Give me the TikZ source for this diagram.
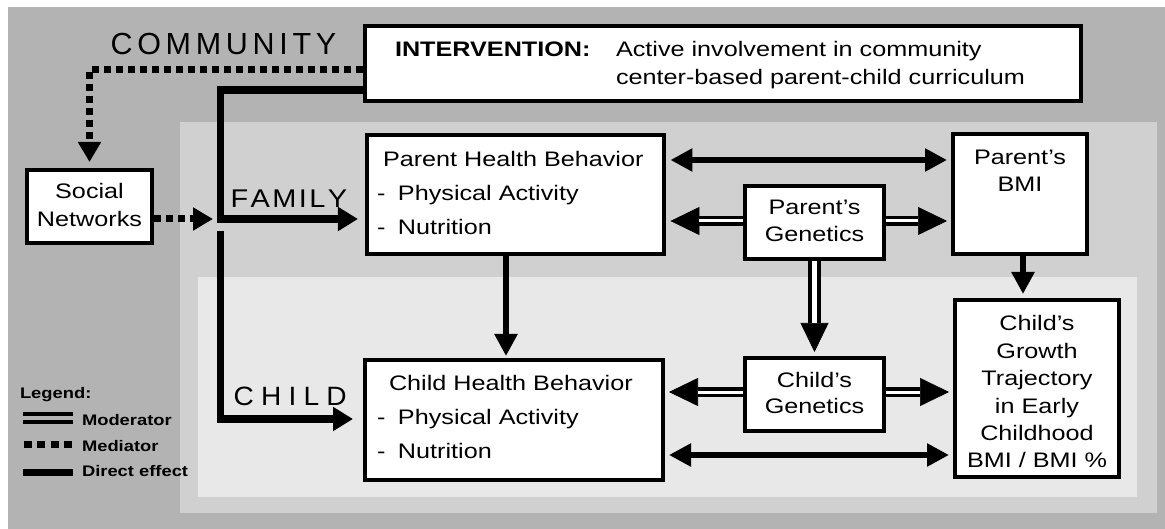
\documentclass[tikz,border=0pt]{standalone}
\usepackage{fontspec}
\setmainfont{Liberation Sans}[FakeStretch=1.2]
\newfontfamily\commfont{Liberation Sans}
\newfontfamily\famfont{Liberation Sans}[FakeStretch=1.13]
\newfontfamily\childfont{Liberation Sans}[FakeStretch=1.06]
\usetikzlibrary{arrows.meta}
\definecolor{outerg}{RGB}{179,179,179}
\definecolor{famg}{RGB}{208,208,208}
\definecolor{childg}{RGB}{232,232,232}
\makeatletter
\newcommand\spword[2]{\@tfor\sp@ch:=#2\do{\sp@ch\kern#1}}
\makeatother
\newcommand\linesC[1]{\begin{tabular}[t]{@{}c@{}}#1\end{tabular}}
\newcommand\linesL[1]{\begin{tabular}[t]{@{}l@{}}#1\end{tabular}}
\tikzset{
  box/.style={draw=black, fill=white, line width=4pt, inner sep=0pt, outer sep=2pt, rectangle},
  txt/.style={inner sep=0pt, outer sep=0pt},
  direct/.style={line width=5.5pt},
  moderator/.style={line width=0.6pt, -{Triangle[length=29pt,width=28pt]}, shorten >=4pt,
    postaction={draw, -, line width=3.5pt, double=white, double distance=3pt, shorten >=33pt}},
  moderatorV/.style={line width=0.6pt, -{Triangle[length=29pt,width=28pt]}, shorten >=4pt,
    postaction={draw, -, line width=4.5pt, double=white, double distance=4.5pt, shorten >=33pt}},
  mediator/.style={line width=7pt, dash pattern=on 7pt off 5pt, -{Triangle[length=20pt,width=22pt]}},
  intvline/.style={line width=7.5pt, -{Triangle[length=20pt,width=23pt]}},
}
\begin{document}
\begin{tikzpicture}[x=1pt,y=-1pt, line join=miter,
  >={Triangle[length=22pt,width=22pt]},
  every node/.style={font=\fontsize{21}{27.4}\selectfont}]
\useasboundingbox (0,0) rectangle (1165,529);
\fill[white] (0,0) rectangle (1165,529);
% background regions
\fill[outerg] (8,7) rectangle (1165,529);
\fill[famg] (180,122) rectangle (1157,513);
\fill[childg] (198,277) rectangle (1137,497);

% boxes
\node[box, minimum width=716pt, minimum height=75pt] (intv) at (723,63.5) {};
\node[box, minimum width=125pt, minimum height=73pt] (sn) at (89.5,206.5) {};
\node[box, minimum width=297.5pt, minimum height=119pt] (phb) at (515.7,194.5) {};
\node[box, minimum width=298pt, minimum height=120pt] (chb) at (514,420) {};
\node[box, minimum width=139pt, minimum height=73pt] (pg) at (814.5,222.5) {};
\node[box, minimum width=139pt, minimum height=73pt] (cg) at (814.5,394.5) {};
\node[box, minimum width=134pt, minimum height=120pt] (pbmi) at (1020,194) {};
\node[box, minimum width=164pt, minimum height=177pt] (cgr) at (1037,388.5) {};

% texts
\node[txt, anchor=base west] (intvA) at (395,57) {\bfseries INTERVENTION:};
\node[txt, anchor=base west, font=\fontsize{21}{28}\selectfont] (intvB) at (616,57)
  {\linesL{Active involvement in community\\center-based parent-child curriculum}};
\node[txt, anchor=base, font=\fontsize{21}{28}\selectfont] (snT) at (89.5,199) {\linesC{Social\\Networks}};
\node[txt, anchor=base west, font=\fontsize{21}{34}\selectfont] (phbT) at (377,167)
  {\linesL{\hspace*{6pt}Parent Health Behavior\\\makebox[21pt][l]{-}Physical Activity\\\makebox[21pt][l]{-}Nutrition}};
\node[txt, anchor=base west, font=\fontsize{21}{33.5}\selectfont] (chbT) at (377,391)
  {\linesL{\hspace*{12pt}Child Health Behavior\\\makebox[21pt][l]{-}Physical Activity\\\makebox[21pt][l]{-}Nutrition}};
\node[txt, anchor=base, font=\fontsize{21}{27}\selectfont] (pgT) at (814.5,215) {\linesC{Parent's\\Genetics}};
\node[txt, anchor=base, font=\fontsize{21}{27}\selectfont] (cgT) at (814.5,387) {\linesC{Child's\\Genetics}};
\node[txt, anchor=base, font=\fontsize{21}{27}\selectfont] (pbmiT) at (1020,165) {\linesC{Parent's\\BMI}};
\node[txt, anchor=base] (cgrT) at (1037,331)
  {\linesC{Child's\\Growth\\Trajectory\\in Early\\Childhood\\BMI / BMI \%}};

% level labels
\node[txt, anchor=base west] (comm) at (110.6,55) {\commfont\fontsize{30.5}{32}\selectfont\spword{4.7pt}{COMMUNITY}};
\node[txt, anchor=base west] (fam) at (230.6,208) {\famfont\fontsize{25.6}{28}\selectfont\spword{2.4pt}{FAMILY}};
\node[txt, anchor=base west] (chl) at (233.7,406) {\childfont\fontsize{26.5}{28}\selectfont\spword{7.2pt}{CHILD}};

% helper coordinates
\coordinate (dotY) at (0,70);
\coordinate (dirY) at (0,90);
\coordinate (jn) at (220.5,219);
\coordinate (jc) at (220.5,231);
\coordinate (jcb) at (220.5,419);
\coordinate (yTop) at (0,160);
\coordinate (yPG) at (0,221);
\coordinate (yCG) at (0,392);
\coordinate (yBot) at (0,455);
\coordinate (xPC) at (506,0);
\coordinate (xBMI) at (1023,0);

% intervention connectors
\draw[mediator, shorten >=6pt] (intv.west |- dotY) -| (sn.north);
\draw[mediator, shorten >=7.5pt] (sn.east |- jn) -- (jn);
\draw[intvline, shorten >=7pt] (intv.west |- dirY) -| (jn) -- (phb.west |- jn);
\draw[intvline, shorten >=10pt] (jc) |- (chb.west |- jcb);

% direct effects
\draw[direct, <->, shorten >=4pt, shorten <=4pt] (phb.east |- yTop) -- (pbmi.west |- yTop);
\draw[direct, ->, shorten >=2pt] (phb.south -| xPC) -- (chb.north -| xPC);
\draw[direct, ->, shorten >=4pt] (pbmi.south -| xBMI) -- (cgr.north -| xBMI);
\draw[direct, <->, shorten >=4pt, shorten <=4pt] (chb.east |- yBot) -- (cgr.west |- yBot);

% moderators
\draw[moderator] (pg.west |- yPG) -- (phb.east |- yPG);
\draw[moderator] (pg.east |- yPG) -- (pbmi.west |- yPG);
\draw[moderatorV] (pg.south) -- (cg.north);
\draw[moderator] (cg.west |- yCG) -- (chb.east |- yCG);
\draw[moderator] (cg.east |- yCG) -- (cgr.west |- yCG);

% legend
\node[txt, anchor=base west, font=\fontsize{15.3}{18}\selectfont\bfseries] (lgT) at (20,399) {Legend:};
\node[txt, anchor=base west, font=\fontsize{15.3}{18}\selectfont\bfseries] (lgMod) at (82,425.7) {Moderator};
\node[txt, anchor=base west, font=\fontsize{15.3}{18}\selectfont\bfseries] (lgMed) at (82,451) {Mediator};
\node[txt, anchor=base west, font=\fontsize{15.3}{18}\selectfont\bfseries] (lgDir) at (82,476.7) {Direct effect};
\draw[line width=4pt, double=outerg, double distance=4.5pt] (23,418) -- (73,418);
\draw[line width=7.6pt, dash pattern=on 8pt off 5.3pt] (24,444.5) -- (73,444.5);
\draw[line width=7pt] (23,472) -- (73,472);
\end{tikzpicture}
\end{document}
